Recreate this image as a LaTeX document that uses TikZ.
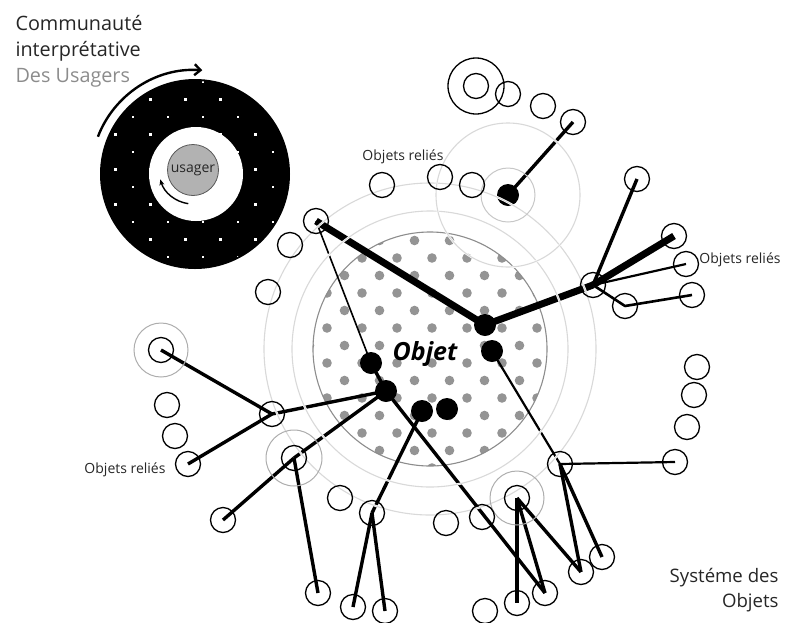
\documentclass[tikz,border=0pt]{standalone}
\usepackage{fontspec}
\setmainfont{Open Sans}
\usetikzlibrary{arrows.meta}
\pgfdeclarelayer{dots}
\pgfdeclarelayer{links}
\pgfdeclarelayer{rings}
\pgfsetlayers{dots,links,rings,main}

\begin{document}
\begin{tikzpicture}[x=1pt,y=-1pt,
    obj/.style={circle,draw,line width=1.3pt,minimum size=25pt,inner sep=0pt},
    hub/.style={circle,fill,minimum size=22pt,inner sep=0pt},
    fin/.style={line width=1.6pt},
    moyen/.style={line width=3.4pt,line join=round},
    gros/.style={line width=7pt,line join=round},
    onde/.style={preaction={draw=white,line width=2.2pt},draw=black!15,line width=1.1pt},
    halo/.style={draw=black!32,line width=1pt},
    etiquette/.style={font=\fontsize{14}{17}\selectfont,text=black!85},
    titre/.style={font=\fontsize{19.8}{24}\selectfont,text=black!85}]
  \useasboundingbox (0,0) rectangle (785,622);

  % communaute des usagers
  \coordinate (anneau) at (195,174);
  \fill (anneau) circle (95);
  \begin{scope}
    \clip (anneau) circle (93);
    \foreach \a in {-4,...,3}
      \foreach \b in {0,...,5} {
        \fill[white] (201.7+35*\a,80.7+35*\b) rectangle ++(2.6,2.6);
        \fill[white] (219.2+35*\a,98.2+35*\b) rectangle ++(2.6,2.6);
      }
  \end{scope}
  \fill[white] (196,174) circle (47);
  \node[circle,fill=black!30,draw=black!65,line width=0.8pt,minimum size=51pt,inner sep=0pt,
    font=\fontsize{14}{16}\selectfont,text=black!85] (usager) at (193,170) {usager};
  \draw[line width=2.4pt,-{Straight Barb[length=6pt,width=11pt]}] (anneau) ++(-159:104) arc (-159:-86:104);
  \draw[line width=1.4pt,-{Stealth[length=6pt,width=5pt]}] (usager.center) ++(98:34) arc (98:164:34);

  \node[titre,anchor=base west] (comm) at (12,30) {Communauté};
  \node[titre,anchor=base west] (interp) at (12,56) {interprétative};
  \node[titre,anchor=base west,text=black!45] (usagers) at (12,82) {Des Usagers};

  % objet
  \coordinate (centre) at (430,349);
  \begin{pgfonlayer}{dots}
    \begin{scope}
      \clip (centre) circle (117);
      \foreach \a in {-4,...,4}
        \foreach \b in {-1,...,6} {
          \fill[black!42] (432+35*\a,258+35*\b) circle (4.8);
          \fill[black!42] (449.5+35*\a,275.5+35*\b) circle (4.8);
        }
    \end{scope}
    \fill[white] (414.5,345.5) circle (5.5) (449.5,345.5) circle (5.5);
    \draw[black!45,line width=1.1pt] (centre) circle (117);
  \end{pgfonlayer}
  \node[font=\fontsize{25}{29}\bfseries\itshape,anchor=base] (objet) at (425,360) {Objet};

  % objets relies
  \node[obj,minimum size=56pt] (grand) at (476,86) {};
  \node[obj] (t1) at (476,86) {};
  \node[obj] (t2) at (508,94) {};
  \node[obj] (t3) at (543,106) {};
  \node[obj] (t4) at (573,122) {};
  \node[obj] (u1) at (382,185) {};
  \node[obj] (u2) at (440,177) {};
  \node[obj] (u3) at (472,185) {};
  \node[obj] (l1) at (316,221) {};
  \node[obj] (l2) at (290,245) {};
  \node[obj] (l3) at (268,292) {};
  \node[obj] (r0) at (593,285) {};
  \node[obj] (r1) at (637,179) {};
  \node[obj] (r2) at (674,236) {};
  \node[obj] (r3) at (686,264) {};
  \node[obj] (r4) at (625,306) {};
  \node[obj] (r5) at (692,295) {};
  \node[obj] (s1) at (697,367) {};
  \node[obj] (s2) at (694,395) {};
  \node[obj] (s3) at (687,427) {};
  \node[obj] (s4) at (675,462) {};
  \node[obj] (s0) at (560,464) {};
  \node[obj] (b1) at (517,498) {};
  \node[obj] (b2) at (482,517) {};
  \node[obj] (b3) at (446,523) {};
  \node[obj] (b4) at (372,513) {};
  \node[obj] (b5) at (340,498) {};
  \node[obj] (b6) at (318,593) {};
  \node[obj] (b7) at (353,607) {};
  \node[obj] (b8) at (385,611) {};
  \node[obj] (b9) at (485,611) {};
  \node[obj] (b10) at (517,603) {};
  \node[obj] (b11) at (545,593) {};
  \node[obj] (b12) at (581,572) {};
  \node[obj] (b13) at (602,557) {};
  \node[obj] (w1) at (161,350) {};
  \node[obj] (w2) at (167,405) {};
  \node[obj] (w3) at (175,436) {};
  \node[obj] (w4) at (188,464) {};
  \node[obj] (w5) at (272,414) {};
  \node[obj] (w6) at (294,458) {};
  \node[obj] (w7) at (223,520) {};

  \node[etiquette,anchor=base] (rel1) at (403,160) {Objets reliés};
  \node[etiquette,anchor=base] (rel2) at (740,263) {Objets reliés};
  \node[etiquette,anchor=base] (rel3) at (125,473) {Objets reliés};
  \node[titre,font=\fontsize{18.6}{22}\selectfont,anchor=base east] (sys1) at (782,582) {Systéme des};
  \node[titre,font=\fontsize{18.6}{22}\selectfont,anchor=base east] (sys2) at (782,607) {Objets};

  \begin{pgfonlayer}{links}
    \node[hub] (h1) at (508,195) {};
    \node[hub] (h2) at (485,325) {};
    \node[hub] (h3) at (492,351) {};
    \node[hub] (h4) at (371,363) {};
    \node[hub] (h5) at (386,391) {};
    \node[hub] (h6) at (422,411) {};
    \node[hub] (h7) at (447,409) {};

    \draw[gros] (l1.center) -- (h2.center) -- (r0.center);
    \draw[line width=7pt] (r0.center) -- (r2.center);
    \draw[fin] (l1.center) -- (h4.center);
    \draw[moyen] (h4.center) -- (h5.center);
    \draw[moyen] (h1.center) -- (t4.center);
    \draw[moyen] (r0.center) -- (r1.center);
    \draw[line width=2.2pt] (r0.center) -- (r3.center);
    \draw[line width=2.6pt,line join=round] (r0.center) -- (r4.center) -- (r5.center);
    \draw[line width=2.2pt] (h3.center) -- (s0.center) -- (s4.center);
    \draw[moyen] (s0.center) -- (b12.center);
    \draw[moyen] (s0.center) -- (b13.center);
    \draw[moyen] (b1.center) -- (b10.center);
    \draw[moyen] (b1.center) -- (b11.center);
    \draw[moyen] (b1.center) -- (b12.center);
    \draw[moyen] (h5.center) -- (b11.center);
    \draw[moyen] (h6.center) -- (b4.center);
    \draw[moyen] (b4.center) -- (b7.center);
    \draw[moyen] (b4.center) -- (b8.center);
    \draw[moyen] (h5.center) -- (w5.center);
    \draw[moyen] (w5.center) -- (w1.center);
    \draw[moyen] (w5.center) -- (w4.center);
    \draw[moyen] (h5.center) -- (w6.center);
    \draw[moyen] (w6.center) -- (w7.center);
    \draw[moyen] (w6.center) -- (b6.center);
  \end{pgfonlayer}

  \begin{pgfonlayer}{rings}
    \draw[onde] (centre) circle (138);
    \draw[onde] (centre) circle (166);
    \draw[onde] (h1.center) circle (72);
    \draw[halo,draw=black!22] (h1.center) circle (27);
    \draw[halo] (w1.center) circle (27);
    \draw[halo] (w6.center) circle (28);
    \draw[halo] (b1.center) circle (27);
  \end{pgfonlayer}
\end{tikzpicture}
\end{document}
